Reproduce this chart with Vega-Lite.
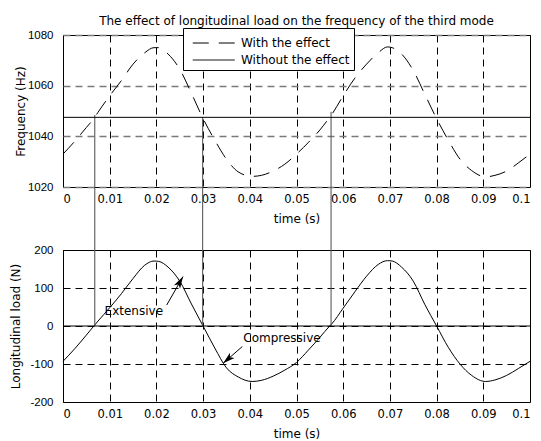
{
  "$schema": "https://vega.github.io/schema/vega-lite/v6.json",
  "autosize": "none",
  "padding": {"left": 63, "top": 35, "right": 11, "bottom": 39},
  "params": [{"name": "width", "value": 467}, {"name": "height", "value": 367}],
  "background": "white",
  "config": {
    "font": "DejaVu Sans",
    "view": {"stroke": "black", "strokeWidth": 1},
    "axis": {
      "domain": false,
      "ticks": false,
      "tickSize": 0,
      "grid": true,
      "gridDash": [7, 5],
      "gridColor": "black",
      "gridOpacity": 1,
      "gridWidth": 1,
      "labelFont": "DejaVu Sans",
      "labelFontSize": 11.5,
      "labelColor": "black",
      "titleFont": "DejaVu Sans",
      "titleFontSize": 12,
      "titleFontWeight": "normal",
      "titleColor": "black"
    },
    "axisY": {"labelFont": "Liberation Sans", "labelFontSize": 11.5},
    "legend": {
      "orient": "none",
      "legendX": 120,
      "legendY": -7,
      "strokeColor": "black",
      "fillColor": "white",
      "padding": 4,
      "symbolType": "M-0.5,0L3.5,0",
      "symbolSize": 441,
      "symbolStrokeWidth": 1,
      "symbolStrokeColor": "black",
      "symbolFillColor": "transparent",
      "labelFont": "DejaVu Sans",
      "labelFontSize": 12,
      "labelColor": "black",
      "labelOffset": 32,
      "rowPadding": 0,
      "cornerRadius": 0
    }
  },
  "datasets": {
    "curve": [
      {"t": 0, "load": -93, "freq": 1033},
      {"t": 0.0025, "load": -60, "freq": 1038},
      {"t": 0.005, "load": -24, "freq": 1043.5},
      {"t": 0.0066, "load": 0, "freq": 1047},
      {"t": 0.0075, "load": 13, "freq": 1049.5},
      {"t": 0.01, "load": 48, "freq": 1056},
      {"t": 0.0125, "load": 85, "freq": 1062},
      {"t": 0.015, "load": 125, "freq": 1068.5},
      {"t": 0.0175, "load": 160, "freq": 1073},
      {"t": 0.0195, "load": 171, "freq": 1075},
      {"t": 0.0205, "load": 170, "freq": 1075},
      {"t": 0.0225, "load": 155, "freq": 1072.5},
      {"t": 0.025, "load": 118, "freq": 1066.5},
      {"t": 0.0275, "load": 58, "freq": 1057},
      {"t": 0.03, "load": 0, "freq": 1047},
      {"t": 0.0325, "load": -58, "freq": 1038.5},
      {"t": 0.035, "load": -110, "freq": 1031},
      {"t": 0.0375, "load": -134, "freq": 1026},
      {"t": 0.0405, "load": -146, "freq": 1024.2},
      {"t": 0.0425, "load": -143, "freq": 1024.6},
      {"t": 0.045, "load": -132, "freq": 1026.3},
      {"t": 0.0475, "load": -116, "freq": 1029},
      {"t": 0.05, "load": -96, "freq": 1033},
      {"t": 0.0525, "load": -64, "freq": 1037.5},
      {"t": 0.055, "load": -30, "freq": 1042.5},
      {"t": 0.0571, "load": 0, "freq": 1047.5},
      {"t": 0.0575, "load": 5, "freq": 1048.5},
      {"t": 0.06, "load": 47, "freq": 1056},
      {"t": 0.0625, "load": 90, "freq": 1063},
      {"t": 0.065, "load": 131, "freq": 1068.5},
      {"t": 0.0675, "load": 162, "freq": 1073},
      {"t": 0.0695, "load": 172, "freq": 1075.3},
      {"t": 0.0705, "load": 171, "freq": 1075},
      {"t": 0.0725, "load": 155, "freq": 1072.5},
      {"t": 0.075, "load": 118, "freq": 1066},
      {"t": 0.0775, "load": 56, "freq": 1056.5},
      {"t": 0.08, "load": 0, "freq": 1047},
      {"t": 0.0825, "load": -56, "freq": 1038.5},
      {"t": 0.085, "load": -100, "freq": 1031},
      {"t": 0.0875, "load": -130, "freq": 1026.5},
      {"t": 0.0905, "load": -146, "freq": 1024},
      {"t": 0.0925, "load": -142, "freq": 1024.6},
      {"t": 0.095, "load": -130, "freq": 1026.3},
      {"t": 0.0975, "load": -112, "freq": 1029.5},
      {"t": 0.1, "load": -93, "freq": 1033}
    ],
    "cuts": [
      {"t": 0.0068, "ftop": 1048.4},
      {"t": 0.0299, "ftop": 1047.5},
      {"t": 0.0574, "ftop": 1049.7}
    ],
    "baseline": [{"freq": 1047.5}]
  },
  "spacing": 63,
  "bounds": "flush",
  "vconcat": [
    {
      "width": 467,
      "height": 152,
      "title": {"text": "The effect of longitudinal load on the frequency of the third mode", "fontSize": 12, "fontWeight": "normal", "font": "DejaVu Sans", "color": "black", "anchor": "middle", "offset": 1},
      "layer": [
        {
          "data": {"name": "curve"},
          "mark": {"type": "line", "color": "black", "strokeWidth": 1, "interpolate": "monotone"},
          "encoding": {
            "x": {"field": "t", "type": "quantitative", "scale": {"domain": [0, 0.1], "nice": false},
              "axis": {"values": [0, 0.01, 0.02, 0.03, 0.04, 0.05, 0.06, 0.07, 0.08, 0.09, 0.1], "format": "~g", "title": "time (s)", "labelPadding": 6, "titleY": 31, "titleBaseline": "middle"}},
            "y": {"field": "freq", "type": "quantitative", "scale": {"domain": [1020, 1080], "nice": false, "zero": false},
              "axis": {"values": [1020, 1040, 1060, 1080], "format": "d", "title": "Frequency (Hz)", "labelPadding": 10, "gridColor": "#7a7a7a", "gridWidth": 1.3, "titleX": -43, "titleY": 76, "titleAlign": "center", "titleBaseline": "middle"}},
            "strokeDash": {"datum": "With the effect", "type": "nominal",
              "scale": {"domain": ["With the effect", "Without the effect"], "range": [[16, 10], [1, 0]]},
              "legend": {"title": null}}
          }
        },
        {
          "data": {"name": "cuts"},
          "mark": {"type": "rule", "color": "#5a5a5a", "strokeWidth": 1.1},
          "encoding": {
            "x": {"field": "t", "type": "quantitative"},
            "y": {"field": "ftop", "type": "quantitative"},
            "y2": {"datum": 995}
          }
        },
        {
          "data": {"name": "baseline"},
          "mark": {"type": "rule", "color": "black", "strokeWidth": 1},
          "encoding": {
            "y": {"field": "freq", "type": "quantitative"},
            "strokeDash": {"datum": "Without the effect", "type": "nominal"}
          }
        }
      ]
    },
    {
      "width": 467,
      "height": 152,
      "layer": [
        {
          "data": {"name": "curve"},
          "mark": {"type": "line", "color": "black", "strokeWidth": 1, "interpolate": "monotone"},
          "encoding": {
            "x": {"field": "t", "type": "quantitative", "scale": {"domain": [0, 0.1], "nice": false},
              "axis": {"values": [0, 0.01, 0.02, 0.03, 0.04, 0.05, 0.06, 0.07, 0.08, 0.09, 0.1], "format": "~g", "title": "time (s)", "labelPadding": 6, "titleY": 31, "titleBaseline": "middle"}},
            "y": {"field": "load", "type": "quantitative", "scale": {"domain": [-200, 200], "nice": false},
              "axis": {"values": [-200, -100, 0, 100, 200], "tickCount": 5, "labelOverlap": false, "labelExpr": "datum.value + ''", "title": "Longitudinal load (N)", "labelPadding": 10, "titleX": -48, "titleY": 76, "titleAlign": "center", "titleBaseline": "middle"}}
          }
        },
        {
          "data": {"name": "cuts"},
          "mark": {"type": "rule", "color": "#5a5a5a", "strokeWidth": 1.1},
          "encoding": {
            "x": {"field": "t", "type": "quantitative"},
            "y": {"datum": 0, "type": "quantitative",
              "axis": {"values": [-200, -100, 0, 100, 200], "tickCount": 5, "labelOverlap": false, "labelExpr": "datum.value + ''", "title": "Longitudinal load (N)", "labelPadding": 10, "titleX": -48, "titleY": 76, "titleAlign": "center", "titleBaseline": "middle"}},
            "y2": {"datum": 200}
          }
        },
        {
          "data": {"values": [{"load": 0}]},
          "mark": {"type": "rule", "color": "black", "strokeWidth": 1},
          "encoding": {"y": {"field": "load", "type": "quantitative",
              "axis": {"values": [-200, -100, 0, 100, 200], "tickCount": 5, "labelOverlap": false, "labelExpr": "datum.value + ''", "title": "Longitudinal load (N)", "labelPadding": 10, "titleX": -48, "titleY": 76, "titleAlign": "center", "titleBaseline": "middle"}}}
        },
        {
          "data": {"values": [
            {"t": 0.0222, "load": 55, "t2": 0.0257, "load2": 130},
            {"t": 0.0384, "load": -54, "t2": 0.0343, "load2": -98}
          ]},
          "mark": {"type": "rule", "color": "black", "strokeWidth": 1},
          "encoding": {
            "x": {"field": "t", "type": "quantitative"},
            "y": {"field": "load", "type": "quantitative"},
            "x2": {"field": "t2"},
            "y2": {"field": "load2"}
          }
        },
        {
          "data": {"values": [{"t": 0.0257, "load": 130}]},
          "mark": {"type": "point", "shape": "M0,0L-0.35,1.2L0,0.9L0.35,1.2Z", "filled": true, "color": "black", "opacity": 1, "size": 400, "angle": 30},
          "encoding": {
            "x": {"field": "t", "type": "quantitative"},
            "y": {"field": "load", "type": "quantitative"}
          }
        },
        {
          "data": {"values": [{"t": 0.0343, "load": -98}]},
          "mark": {"type": "point", "shape": "M0,0L-0.35,1.2L0,0.9L0.35,1.2Z", "filled": true, "color": "black", "opacity": 1, "size": 400, "angle": 229},
          "encoding": {
            "x": {"field": "t", "type": "quantitative"},
            "y": {"field": "load", "type": "quantitative"}
          }
        },
        {
          "data": {"values": [
            {"t": 0.0089, "load": 40, "label": "Extensive"},
            {"t": 0.0386, "load": -31, "label": "Compressive"}
          ]},
          "mark": {"type": "text", "align": "left", "baseline": "middle", "fontSize": 12, "font": "DejaVu Sans", "color": "black"},
          "encoding": {
            "x": {"field": "t", "type": "quantitative"},
            "y": {"field": "load", "type": "quantitative"},
            "text": {"field": "label"}
          }
        }
      ]
    }
  ]
}
